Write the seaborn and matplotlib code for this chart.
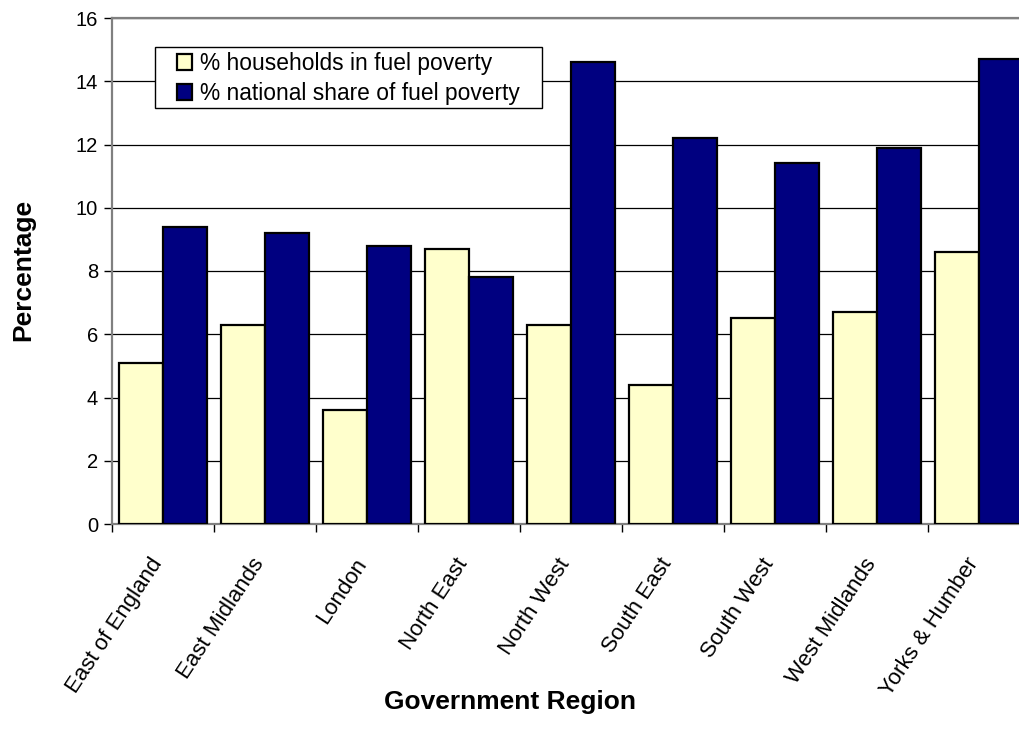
import matplotlib
matplotlib.use("Agg")
import matplotlib.pyplot as plt
import seaborn as sns
import pandas as pd
from matplotlib.ticker import FixedLocator
from matplotlib.patches import Rectangle
from matplotlib.transforms import ScaledTranslation

regions = ["East of England", "East Midlands", "London", "North East", "North West",
           "South East", "South West", "West Midlands", "Yorks & Humber"]
households = [5.1, 6.3, 3.6, 8.7, 6.3, 4.4, 6.5, 6.7, 8.6]
national_share = [9.4, 9.2, 8.8, 7.8, 14.6, 12.2, 11.4, 11.9, 14.7]
series_names = ["% households in fuel poverty", "% national share of fuel poverty"]
colors = ["#FFFFCC", "#000080"]
yticks = [0, 2, 4, 6, 8, 10, 12, 14, 16]

df = pd.DataFrame({
    "Region": regions * 2,
    "Value": households + national_share,
    "Series": [series_names[0]] * len(regions) + [series_names[1]] * len(regions),
})

plt.rcParams["font.family"] = ["Liberation Sans", "DejaVu Sans"]

fig = plt.figure(figsize=(10.19, 7.37), dpi=100)
W, H = 1019, 737
ax = fig.add_axes([112 / W, (H - 524) / H, 918 / W, 506 / H])

sns.barplot(data=df, x="Region", y="Value", hue="Series", hue_order=series_names,
            palette=colors, width=0.87, gap=0, edgecolor="black", linewidth=1.6,
            saturation=1, ax=ax, zorder=3)

ax.set_xlim(-0.5, len(regions) - 0.5)
ax.set_ylim(0, 16)
ax.set_yticks(yticks)
ax.set_yticklabels([str(v) for v in yticks], fontsize=14.5)
ax.yaxis.grid(True, color="black", linewidth=0.9, zorder=0)
ax.set_axisbelow(True)

ax.tick_params(axis="y", direction="out", length=6, width=1, color="black", pad=4)
ax.xaxis.set_minor_locator(FixedLocator([i - 0.5 for i in range(len(regions) + 1)]))
ax.tick_params(axis="x", which="minor", direction="out", length=6, width=1, color="black")
ax.tick_params(axis="x", which="major", length=0, pad=26)
ax.set_xticks(range(len(regions)))
ax.set_xticklabels(regions, rotation=56.5, ha="right", va="center",
                   rotation_mode="anchor", fontsize=16,
                   family=["Liberation Sans Narrow", "Liberation Sans", "DejaVu Sans"])
shift = ScaledTranslation(-5 / 100, 0, fig.dpi_scale_trans)
for lbl in ax.get_xticklabels():
    lbl.set_transform(lbl.get_transform() + shift)

for side in ["left", "bottom", "top"]:
    ax.spines[side].set_color("#808080")
    ax.spines[side].set_linewidth(1.6)
ax.spines["right"].set_visible(False)

ax.set_xlabel("Government Region", fontsize=19, fontweight="bold")
ax.xaxis.set_label_coords(0.434, -0.328)
ax.set_ylabel("Percentage", fontsize=19, fontweight="bold")
ax.yaxis.set_label_coords(-0.084, 0.502)

# legend frame drawn separately to match the wider horizontal padding
frame = Rectangle((0.0468, 0.822), 0.4216, 0.121, transform=ax.transAxes,
                  facecolor="white", edgecolor="black", linewidth=1, zorder=4)
ax.add_patch(frame)
leg = ax.legend(loc="upper left", bbox_to_anchor=(0.0708, 0.9328), frameon=False,
                fontsize=16.4, handlelength=0.66, handleheight=0.66,
                handletextpad=0.35, borderpad=0, labelspacing=0.3, borderaxespad=0)
leg.set_zorder(5)

fig.savefig("out.png", dpi=100)
